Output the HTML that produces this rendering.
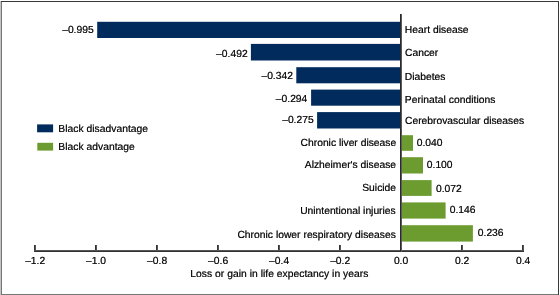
<!DOCTYPE html>
<html><head><meta charset="utf-8"><style>
html,body{margin:0;padding:0;background:#fff;}
svg{display:block;will-change:transform;}
text{font-family:"Liberation Sans",sans-serif;font-size:10.3px;text-rendering:geometricPrecision;fill:#000;stroke:#000;stroke-width:0.05px;}
</style></head><body>
<svg width="560" height="295" viewBox="0 0 560 295">
<rect x="0" y="0" width="560" height="295" fill="#fff"/>
<rect x="0" y="1" width="1" height="294" fill="#c4c4c4"/>
<rect x="1" y="1" width="1" height="294" fill="#777"/>
<rect x="1" y="294" width="558" height="1" fill="#777"/>
<rect x="1" y="1" width="558" height="1" fill="#383838"/>
<rect x="558" y="1" width="1" height="294" fill="#383838"/>
<rect x="97.20" y="21.80" width="303.80" height="16.20" fill="#002b5c"/>
<rect x="250.90" y="43.90" width="150.10" height="16.60" fill="#002b5c"/>
<rect x="296.30" y="67.20" width="104.70" height="16.10" fill="#002b5c"/>
<rect x="311.10" y="89.60" width="89.90" height="16.10" fill="#002b5c"/>
<rect x="317.10" y="112.10" width="83.90" height="16.40" fill="#002b5c"/>
<rect x="401" y="135.20" width="12.00" height="15.60" fill="#6c9c30"/>
<rect x="401" y="157.20" width="22.00" height="16.30" fill="#6c9c30"/>
<rect x="401" y="180.10" width="30.60" height="15.80" fill="#6c9c30"/>
<rect x="401" y="202.40" width="44.60" height="16.20" fill="#6c9c30"/>
<rect x="401" y="225.20" width="71.90" height="16.40" fill="#6c9c30"/>
<rect x="34" y="245" width="1" height="7" fill="#333"/>
<rect x="35" y="245" width="1" height="7" fill="#555"/>
<rect x="95" y="245" width="1" height="7" fill="#333"/>
<rect x="96" y="245" width="1" height="7" fill="#555"/>
<rect x="156" y="245" width="1" height="7" fill="#333"/>
<rect x="157" y="245" width="1" height="7" fill="#555"/>
<rect x="217" y="245" width="1" height="7" fill="#333"/>
<rect x="218" y="245" width="1" height="7" fill="#555"/>
<rect x="278" y="245" width="1" height="7" fill="#333"/>
<rect x="279" y="245" width="1" height="7" fill="#555"/>
<rect x="339" y="245" width="1" height="7" fill="#333"/>
<rect x="340" y="245" width="1" height="7" fill="#555"/>
<rect x="400" y="245" width="1" height="7" fill="#333"/>
<rect x="401" y="245" width="1" height="7" fill="#555"/>
<rect x="461" y="245" width="1" height="7" fill="#333"/>
<rect x="462" y="245" width="1" height="7" fill="#555"/>
<rect x="522" y="245" width="1" height="7" fill="#333"/>
<rect x="523" y="245" width="1" height="7" fill="#555"/>
<rect x="34" y="250" width="490" height="1" fill="#555"/>
<rect x="34" y="251" width="490" height="1" fill="#333"/>
<rect x="400" y="14" width="1" height="238" fill="#2b2b2b"/>
<rect x="401" y="14" width="1" height="238" fill="#5a5a5a"/>
<rect x="37.1" y="124.4" width="16" height="7.9" fill="#002b5c"/>
<rect x="37.3" y="142.8" width="15.8" height="7.8" fill="#6c9c30"/>
<defs><filter id="dk" x="0" y="0" width="100%" height="100%" filterUnits="userSpaceOnUse"><feComponentTransfer><feFuncA type="gamma" amplitude="1" exponent="0.7" offset="0"/></feComponentTransfer></filter></defs>
<g filter="url(#dk)"><text x="62.17" y="33.00">–0.995</text>
<text x="404.75" y="33.00" textLength="63.83" lengthAdjust="spacing">Heart disease</text>
<text x="216.11" y="57.00">–0.492</text>
<text x="405.01" y="56.00">Cancer</text>
<text x="261.41" y="79.00">–0.342</text>
<text x="404.75" y="80.00">Diabetes</text>
<text x="275.84" y="102.00">–0.294</text>
<text x="404.75" y="103.00" textLength="90.78" lengthAdjust="spacing">Perinatal conditions</text>
<text x="282.17" y="123.00">–0.275</text>
<text x="405.01" y="124.00">Cerebrovascular diseases</text>
<text x="416.70" y="146.00">0.040</text>
<text x="300.58" y="146.00">Chronic liver disease</text>
<text x="426.80" y="168.00">0.100</text>
<text x="304.80" y="168.00">Alzheimer&#39;s disease</text>
<text x="436.00" y="192.00">0.072</text>
<text x="362.26" y="191.00">Suicide</text>
<text x="449.70" y="213.00">0.146</text>
<text x="300.14" y="214.00">Unintentional injuries</text>
<text x="477.80" y="236.00">0.236</text>
<text x="237.42" y="238.00" textLength="158.45" lengthAdjust="spacing">Chronic lower respiratory diseases</text>
<text x="25.14" y="264.00">–1.2</text>
<text x="86.05" y="264.00">–1.0</text>
<text x="147.07" y="264.00">–0.8</text>
<text x="208.08" y="264.00">–0.6</text>
<text x="269.10" y="264.00">–0.4</text>
<text x="330.14" y="264.00">–0.2</text>
<text x="393.90" y="264.00">0.0</text>
<text x="455.01" y="264.00">0.2</text>
<text x="516.00" y="264.00">0.4</text>
<text x="190.35" y="277" textLength="178.00" lengthAdjust="spacing">Loss or gain in life expectancy in years</text>
<text x="58.25" y="132.00" textLength="89.81" lengthAdjust="spacing">Black disadvantage</text>
<text x="58.25" y="150.00" textLength="76.54" lengthAdjust="spacing">Black advantage</text></g>
</svg>
</body></html>
